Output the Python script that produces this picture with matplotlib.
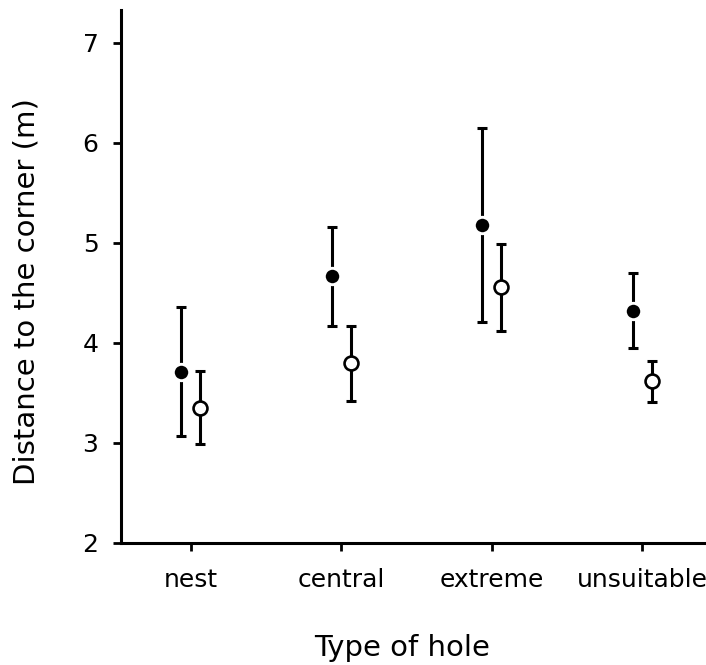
import matplotlib
matplotlib.use("Agg")
import matplotlib.pyplot as plt
import numpy as np

categories = ["nest", "central", "extreme", "unsuitable"]
filled_mean = [3.71, 4.67, 5.18, 4.32]
filled_low = [3.07, 4.17, 4.21, 3.95]
filled_high = [4.36, 5.16, 6.15, 4.70]
open_mean = [3.35, 3.80, 4.56, 3.62]
open_low = [2.99, 3.42, 4.12, 3.41]
open_high = [3.72, 4.17, 4.99, 3.82]
yticks = [2, 3, 4, 5, 6, 7]

plt.rcParams["font.family"] = ["DejaVu Sans"]

fig = plt.figure(figsize=(7.06, 6.65), dpi=100)
ax = fig.add_axes([121.3 / 706, 1 - 542.7 / 665, 1 - 121.3 / 706, (542.7 - 10) / 665])

x = np.arange(len(categories))
off_f = -0.062
off_o = 0.064

fm = np.array(filled_mean)
om = np.array(open_mean)
f_err = [fm - np.array(filled_low), np.array(filled_high) - fm]
o_err = [om - np.array(open_low), np.array(open_high) - om]

ax.errorbar(x + off_f, fm, yerr=f_err, fmt="none", ecolor="black",
            elinewidth=2.2, capsize=3.9, capthick=2.2, zorder=2)
ax.errorbar(x + off_o, om, yerr=o_err, fmt="none", ecolor="black",
            elinewidth=2.2, capsize=3.9, capthick=2.2, zorder=2)
ax.plot(x + off_f, fm, "o", color="black", markersize=11.8,
        markeredgecolor="white", markeredgewidth=2.1, linestyle="none", zorder=3)
ax.plot(x + off_o, om, "o", markerfacecolor="white", markersize=10.0,
        markeredgecolor="black", markeredgewidth=1.9, linestyle="none", zorder=3)

ax.set_xlim(-0.462, 3.426)
ax.set_ylim(2, 7.33)
ax.set_xticks(x)
ax.set_xticklabels(categories)
ax.set_yticks(yticks)
ax.set_yticklabels([str(v) for v in yticks])

for side in ["top", "right"]:
    ax.spines[side].set_visible(False)
for side in ["left", "bottom"]:
    ax.spines[side].set_linewidth(2.2)

ax.tick_params(axis="both", direction="out", length=5.5, width=2.0, labelsize=18)
ax.tick_params(axis="y", pad=11)
ax.tick_params(axis="x", pad=13)

ax.set_xlabel("Type of hole", fontsize=21)
ax.set_ylabel("Distance to the corner (m)", fontsize=21)
ax.xaxis.set_label_coords(0.48, -0.172)
ax.yaxis.set_label_coords(-0.139, 0.471)

fig.savefig("out.png", dpi=100)
